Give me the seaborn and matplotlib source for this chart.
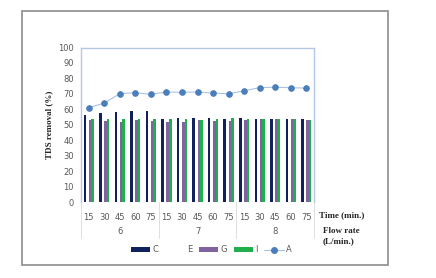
import pandas as pd
import matplotlib
matplotlib.use('Agg')
import matplotlib.pyplot as plt
import matplotlib.transforms as mtransforms
from matplotlib.patches import Patch, Rectangle
from matplotlib.lines import Line2D
import seaborn as sns

times = ['15', '30', '45', '60', '75'] * 3
flows = ['6', '7', '8']
series = ['C', 'E', 'G', 'I']
c_vals = [56, 57.6, 58.4, 59, 59.2, 53.7, 54.2, 54.4, 54.3, 54, 54.2, 54, 53.7, 53.7, 53.5]
e_vals = [0] * 15
g_vals = [53, 52.6, 52, 53, 52.6, 52, 52, 53, 52.7, 52.2, 53, 54, 53.5, 54, 53]
i_vals = [53.7, 53.7, 53.5, 53.5, 53.5, 53.5, 53.5, 53.3, 53.5, 54.6, 54, 54, 53.5, 54, 53]
a_vals = [61.1, 64, 70.1, 70.8, 69.7, 71.2, 71, 71.2, 70.5, 70, 72, 74, 74.3, 74, 73.7]

colors = {'C': '#10215e', 'E': '#ffffff', 'G': '#8064a2', 'I': '#1fb04c'}

rows = []
for name, vals in zip(series, [c_vals, e_vals, g_vals, i_vals]):
    for k, v in enumerate(vals):
        rows.append({'pos': k, 'series': name, 'value': v})
df = pd.DataFrame(rows)
line_df = pd.DataFrame({'pos': range(15), 'A': a_vals})

sns.set_style('white')
fig = plt.figure(figsize=(4.36, 2.78), dpi=100)
ax = fig.add_axes([81 / 436, 1 - 202 / 278, 233 / 436, 154.5 / 278])

sns.barplot(data=df, x='pos', y='value', hue='series', palette=colors,
            width=0.66, ax=ax, legend=False, saturation=1,
            linewidth=0, edgecolor='none')
sns.lineplot(data=line_df, x='pos', y='A', ax=ax, color='#a8c3e6', lw=0.8,
             marker='o', markersize=4, markerfacecolor='#4a7ebb',
             markeredgecolor='#4a7ebb')

ax.set_xlim(-0.5, 14.5)
ax.set_ylim(0, 100)
ax.set_yticks(range(0, 101, 10))
ax.tick_params(axis='y', labelsize=6, labelcolor='#595959', length=0, pad=5)
ax.set_xticks(range(15))
ax.set_xticklabels(times)
ax.tick_params(axis='x', labelsize=6, labelcolor='#595959', length=0, pad=8)
ax.set_xlabel('')
ax.set_ylabel('TDS removal (%)', family='Liberation Serif', fontweight='bold',
              fontsize=6.5, labelpad=4)
for side in ['top', 'right', 'left']:
    ax.spines[side].set_color('#b4c7e7')
    ax.spines[side].set_linewidth(1)
ax.spines['bottom'].set_visible(False)

# second level category axis
trans = mtransforms.blended_transform_factory(ax.transData, ax.transAxes)
for k, f in enumerate(flows):
    ax.text(k * 5 + 2, -0.19, f, transform=trans, ha='center', va='center',
            fontsize=6, color='#595959')
for b in [-0.5, 4.5, 9.5, 14.5]:
    ax.plot([b, b], [0, -0.23], transform=trans, color='#d9d9d9', lw=0.6,
            clip_on=False)

fig.text(319 / 436, 1 - 215 / 278, 'Time (min.)', family='Liberation Serif',
         fontweight='bold', fontsize=6.5, va='center', ha='left')
fig.text(323 / 436, 1 - 236 / 278, 'Flow rate\n(L/min.)', family='Liberation Serif',
         fontweight='bold', fontsize=6.5, va='center', ha='left', linespacing=1.3)

handles = [Patch(facecolor=colors[s], edgecolor='none', label=s) for s in series]
handles.append(Line2D([], [], color='#a8c3e6', lw=0.8, marker='o', markersize=4,
                      markerfacecolor='#4a7ebb', markeredgecolor='#4a7ebb', label='A'))
leg = fig.legend(handles=handles, loc='center', bbox_to_anchor=(0.485, 1 - 250 / 278),
                 ncol=5, frameon=False, fontsize=6, handlelength=2.3, handleheight=0.5,
                 columnspacing=0.8, handletextpad=0.3)
for t in leg.get_texts():
    t.set_color('#595959')

fig.patches.append(Rectangle((21.5 / 436, 1 - 265 / 278), 366.5 / 436, 254 / 278,
                             transform=fig.transFigure, fill=False,
                             edgecolor='#8c8c8c', lw=1.2))

plt.savefig('out.png', dpi=100)
